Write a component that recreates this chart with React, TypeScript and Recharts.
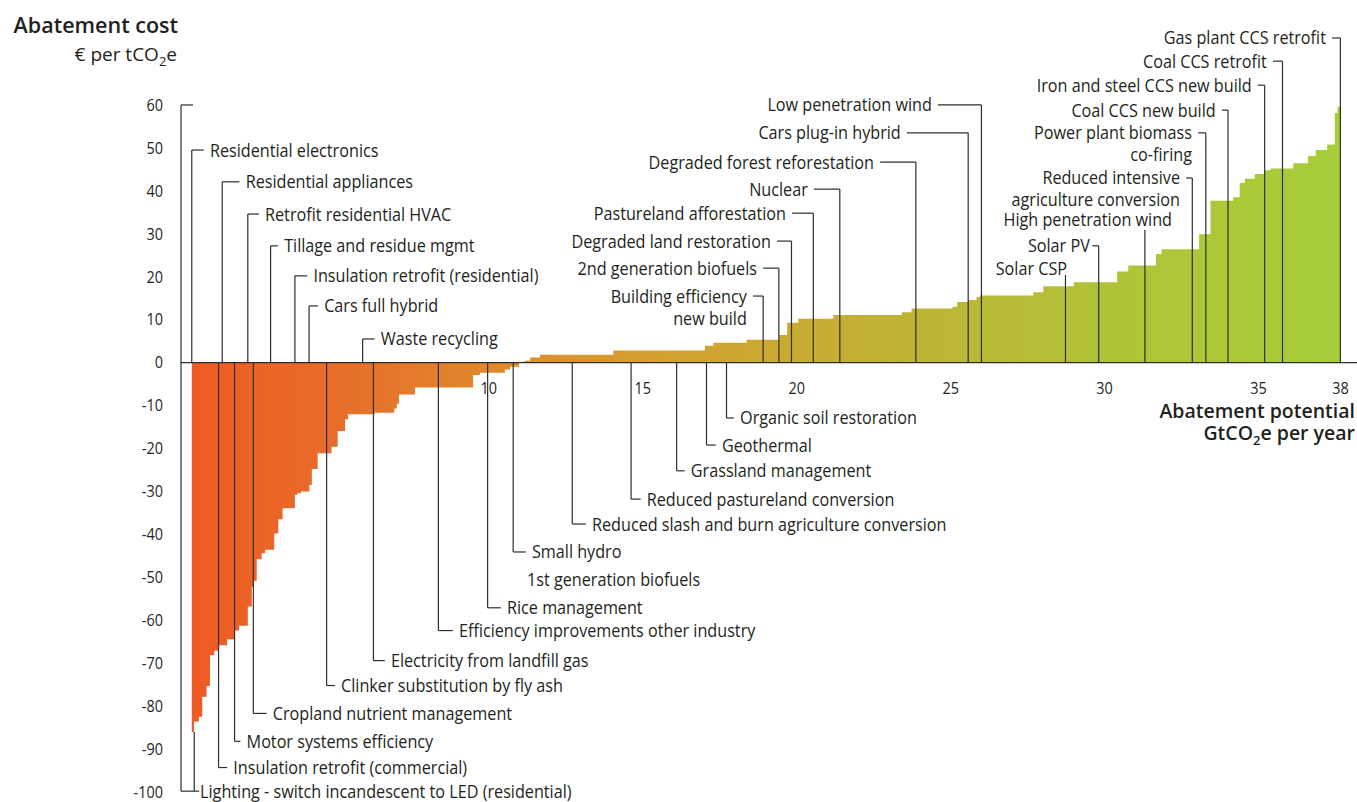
import React from 'react';
import { AreaChart, Area, XAxis, YAxis, ReferenceLine, ReferenceDot } from 'recharts';

// ---------- data ----------
// start of each abatement lever on the cumulative potential axis (GtCO2e per year)
const stepStarts = [
  0.35, 0.42, 0.58, 0.69, 0.83, 0.94, 1.08, 1.21, 1.50, 1.73,
  1.89, 2.17, 2.30, 2.37, 2.46, 2.62, 2.73, 3.03, 3.16, 3.30,
  3.70, 3.78, 3.90, 4.17, 4.25, 4.44, 4.89, 5.09, 5.33, 5.43,
  6.30, 6.93, 7.01, 7.08, 7.60, 9.49, 9.71, 10.52, 10.69, 10.98,
  11.17, 11.34, 11.66, 14.04, 17.02, 17.29, 18.37, 19.43, 19.69, 20.05,
  21.19, 23.41, 23.73, 25.06, 25.21, 25.57, 25.84, 25.95, 27.68, 28.01,
  29.00, 30.41, 30.77, 31.67, 31.85, 33.07, 33.44, 34.18, 34.39, 34.56,
  34.88, 35.21, 35.39, 36.13, 36.61, 36.86, 37.23, 37.48, 37.57,
];
// abatement cost of each lever (EUR per tCO2e)
const costs = [
  -86.0, -83.6, -82.5, -77.8, -75.3, -68.1, -67.1, -65.8, -64.4, -62.4,
  -61.3, -56.8, -52.2, -50.8, -45.8, -44.4, -43.6, -39.8, -36.5, -33.9,
  -30.8, -30.4, -30.0, -28.5, -24.8, -21.1, -19.6, -15.9, -13.2, -12.0,
  -11.7, -10.7, -9.6, -7.4, -5.8, -2.9, -2.35, -1.6, -0.95, 0.2,
  0.45, 1.2, 1.85, 2.8, 3.9, 4.6, 5.3, 6.4, 9.3, 10.2,
  11.1, 11.7, 12.6, 13.0, 14.1, 14.6, 15.3, 15.6, 16.4, 17.8,
  18.7, 21.2, 22.6, 25.3, 26.4, 29.9, 37.7, 38.5, 41.8, 42.8,
  43.9, 44.8, 45.2, 46.4, 48.1, 49.5, 50.8, 58.1, 59.6,
];
const curveEnd = 37.66;

const yTicks = [60, 50, 40, 30, 20, 10, 0, -10, -20, -30, -40, -50, -60, -70, -80, -90, -100];
const xTickValues = [10, 15, 20, 25, 30, 35, 37.66];
const xTickLabels = ['10', '15', '20', '25', '30', '35', '38'];

type Ann = {
  label: string[];
  x: number; // lever position (where the leader line meets the axis)
  y: number; // label level
  tx: number; // text anchor position
  from?: number;
  to?: number;
  stem?: boolean;
  noLine?: boolean;
  gap?: number;
};

const annotations: Ann[] = [
  { label: ['Residential electronics'], x: 0.35, y: 49.5, tx: 0.94 },
  { label: ['Residential appliances'], x: 1.34, y: 42.1, tx: 2.10 },
  { label: ['Retrofit residential HVAC'], x: 2.17, y: 34.6, tx: 2.73 },
  { label: ['Tillage and residue mgmt'], x: 2.91, y: 27.2, tx: 3.35 },
  { label: ['Insulation retrofit (residential)'], x: 3.70, y: 20.2, tx: 4.30 },
  { label: ['Cars full hybrid'], x: 4.16, y: 13.2, tx: 4.65 },
  { label: ['Waste recycling'], x: 5.90, y: 5.5, tx: 6.49 },
  { label: ['Lighting - switch incandescent to LED (residential)'], x: 0.43, y: -99.8, tx: 0.62, from: -86, gap: 0.03 },
  { label: ['Insulation retrofit (commercial)'], x: 1.22, y: -94.3, tx: 1.70 },
  { label: ['Motor systems efficiency'], x: 1.74, y: -88.2, tx: 2.13 },
  { label: ['Cropland nutrient management'], x: 2.35, y: -81.7, tx: 2.98 },
  { label: ['Clinker substitution by fly ash'], x: 4.73, y: -75.2, tx: 5.20 },
  { label: ['Electricity from landfill gas'], x: 6.25, y: -69.4, tx: 6.82 },
  { label: ['Efficiency improvements other industry'], x: 8.36, y: -62.4, tx: 9.03 },
  { label: ['Rice management'], x: 9.96, y: -57.1, tx: 10.59 },
  { label: ['1st generation biofuels'], x: 10.79, y: -50.5, tx: 11.24, noLine: true },
  { label: ['Small hydro'], x: 10.79, y: -44.1, tx: 11.40 },
  { label: ['Reduced slash and burn agriculture conversion'], x: 12.71, y: -37.6, tx: 13.35 },
  { label: ['Reduced pastureland conversion'], x: 14.62, y: -31.8, tx: 15.13 },
  { label: ['Grassland management'], x: 16.10, y: -25.2, tx: 16.56 },
  { label: ['Geothermal'], x: 17.07, y: -19.2, tx: 17.57 },
  { label: ['Organic soil restoration'], x: 17.72, y: -12.9, tx: 18.16 },
  { label: ['Building efficiency', 'new build'], x: 18.91, y: 15.5, tx: 18.38 },
  { label: ['2nd generation biofuels'], x: 19.42, y: 22.0, tx: 18.71 },
  { label: ['Degraded land restoration'], x: 19.83, y: 28.3, tx: 19.16 },
  { label: ['Pastureland afforestation'], x: 20.54, y: 34.8, tx: 19.65 },
  { label: ['Nuclear'], x: 21.40, y: 40.4, tx: 20.36 },
  { label: ['Degraded forest reforestation'], x: 23.87, y: 46.7, tx: 22.51 },
  { label: ['Cars plug-in hybrid'], x: 25.57, y: 53.5, tx: 23.38 },
  { label: ['Low penetration wind'], x: 26.00, y: 60.0, tx: 24.39 },
  { label: ['Solar CSP'], x: 28.73, y: 21.8, tx: 28.78, to: 20.4, stem: true },
  { label: ['Solar PV'], x: 29.81, y: 27.2, tx: 29.52, gap: 0.08 },
  { label: ['High penetration wind'], x: 31.31, y: 33.4, tx: 32.19, to: 30.9, stem: true },
  { label: ['Reduced intensive', 'agriculture conversion'], x: 32.85, y: 43.0, tx: 32.45 },
  { label: ['Power plant biomass', 'co-firing'], x: 33.29, y: 53.5, tx: 32.84 },
  { label: ['Coal CCS new build'], x: 34.01, y: 58.8, tx: 33.61 },
  { label: ['Iron and steel CCS new build'], x: 35.20, y: 64.6, tx: 34.78 },
  { label: ['Coal CCS retrofit'], x: 35.78, y: 70.2, tx: 35.27 },
  { label: ['Gas plant CCS retrofit'], x: 37.66, y: 75.6, tx: 37.19 },
];

// ---------- style ----------
const FONT = "'Open Sans', 'Noto Sans', sans-serif";
const TEXT_COLOR = '#231F20';
const LINE_COLOR = '#2e2e2e';
const LINE_W = 1.2;
const SCALE_X = 0.875;
const DEFAULT_GAP = 0.2;
const gradStops = [
  { o: 0, c: '#EF5A24' },
  { o: 0.14, c: '#E6702A' },
  { o: 0.27, c: '#DF8A2D' },
  { o: 0.4, c: '#D4A030' },
  { o: 0.53, c: '#C8AC32' },
  { o: 0.66, c: '#BCB735' },
  { o: 0.79, c: '#B1C237' },
  { o: 1, c: '#A6CE39' },
];

function CondText(props: { x: number; y: number; lines: string[]; anchor: 'start' | 'end' | 'middle'; size?: number }) {
  const { x, y, lines, anchor, size = 18.5 } = props;
  return (
    <text
      transform={`translate(${x},${y}) scale(${SCALE_X},1)`}
      textAnchor={anchor}
      fontFamily={FONT}
      fontSize={size}
      fill={TEXT_COLOR}
    >
      {lines.map((l, i) => (
        <tspan key={i} x={0} dy={i === 0 ? '0.35em' : 22}>
          {l}
        </tspan>
      ))}
    </text>
  );
}

const YTick = (p: any) => (
  <CondText x={p.x} y={p.y} lines={[String(p.payload.value)]} anchor="end" size={16.5} />
);

export default function App() {
  const data = stepStarts.map((x, i) => ({ x, cost: costs[i] }));
  data.push({ x: curveEnd, cost: costs[costs.length - 1] });

  const lineProps = { stroke: LINE_COLOR, strokeWidth: LINE_W, ifOverflow: 'visible' as const };

  const annElements: React.ReactElement[] = [];
  annotations.forEach((a, i) => {
    const anchor: 'start' | 'end' = a.stem ? 'end' : a.tx > a.x ? 'start' : 'end';
    if (!a.noLine) {
      annElements.push(
        <ReferenceLine
          key={`v${i}`}
          segment={[
            { x: a.x, y: a.from ?? 0 },
            { x: a.x, y: a.to ?? a.y },
          ]}
          {...lineProps}
        />
      );
      if (!a.stem) {
        const g = a.gap ?? DEFAULT_GAP;
        const end = a.tx > a.x ? a.tx - g : a.tx + g;
        annElements.push(
          <ReferenceLine
            key={`h${i}`}
            segment={[
              { x: a.x, y: a.y },
              { x: end, y: a.y },
            ]}
            {...lineProps}
          />
        );
      }
    }
    annElements.push(
      <ReferenceDot
        key={`t${i}`}
        x={a.tx}
        y={a.y}
        r={0}
        ifOverflow="visible"
        shape={(p: any) => <CondText x={p.cx} y={p.cy} lines={a.label} anchor={anchor} />}
      />
    );
  });

  const xTickEls = xTickValues.map((v, i) => (
    <ReferenceDot
      key={`xt${i}`}
      x={v}
      y={0}
      r={0}
      ifOverflow="visible"
      shape={(p: any) => <CondText x={p.cx} y={p.cy + 26} lines={[xTickLabels[i]]} anchor="middle" size={16.5} />}
    />
  ));

  return (
    <div style={{ position: 'absolute', left: 0, top: 0, width: 1357, height: 802, background: '#fff' }}>
      <AreaChart
        width={1357}
        height={802}
        data={data}
        margin={{ top: 1.9, right: 0, bottom: 1.4, left: 0 }}
      >
        <defs>
          <linearGradient id="macGrad" x1="0" y1="0" x2="1" y2="0">
            {gradStops.map((s, i) => (
              <stop key={i} offset={s.o} stopColor={s.c} />
            ))}
          </linearGradient>
        </defs>
        <XAxis type="number" dataKey="x" domain={[0, 38.2]} hide allowDataOverflow />
        <YAxis
          type="number"
          domain={[-102, 84]}
          ticks={yTicks}
          interval={0}
          width={181}
          axisLine={false}
          tickLine={false}
          tickMargin={12}
          tick={YTick}
          allowDataOverflow
        />
        <Area
          type="stepAfter"
          dataKey="cost"
          stroke="none"
          fill="url(#macGrad)"
          fillOpacity={1}
          baseValue={0}
          dot={false}
          activeDot={false}
          isAnimationActive={false}
        />
        <ReferenceLine y={0} stroke={LINE_COLOR} strokeWidth={1.3} />
        <ReferenceLine segment={[{ x: 0, y: 60 }, { x: 0, y: -99.8 }]} {...lineProps} />
        <ReferenceLine segment={[{ x: 0, y: 60 }, { x: 0.39, y: 60 }]} {...lineProps} />
        <ReferenceLine segment={[{ x: 0, y: -99.8 }, { x: 0.43, y: -99.8 }]} {...lineProps} />
        {annElements}
        {xTickEls}
      </AreaChart>
      <svg
        width={1357}
        height={802}
        style={{ position: 'absolute', left: 0, top: 0, pointerEvents: 'none' }}
      >
        <text x={178} y={33} textAnchor="end" fontFamily={FONT} fontWeight={600} fontSize={21.5} fill={TEXT_COLOR}>
          Abatement cost
        </text>
        <text x={177} y={61} textAnchor="end" fontFamily={FONT} fontSize={19} fill={TEXT_COLOR}>
          <tspan>€ per tCO</tspan>
          <tspan dy={5} fontSize={13}>2</tspan>
          <tspan dy={-5}>e</tspan>
        </text>
        <text x={1355} y={418} textAnchor="end" fontFamily={FONT} fontWeight={600} fontSize={19.5} fill={TEXT_COLOR}>
          Abatement potential
        </text>
        <text x={1355} y={440} textAnchor="end" fontFamily={FONT} fontWeight={600} fontSize={19.5} fill={TEXT_COLOR}>
          <tspan>GtCO</tspan>
          <tspan dy={5} fontSize={13}>2</tspan>
          <tspan dy={-5}>e per year</tspan>
        </text>
      </svg>
    </div>
  );
}
